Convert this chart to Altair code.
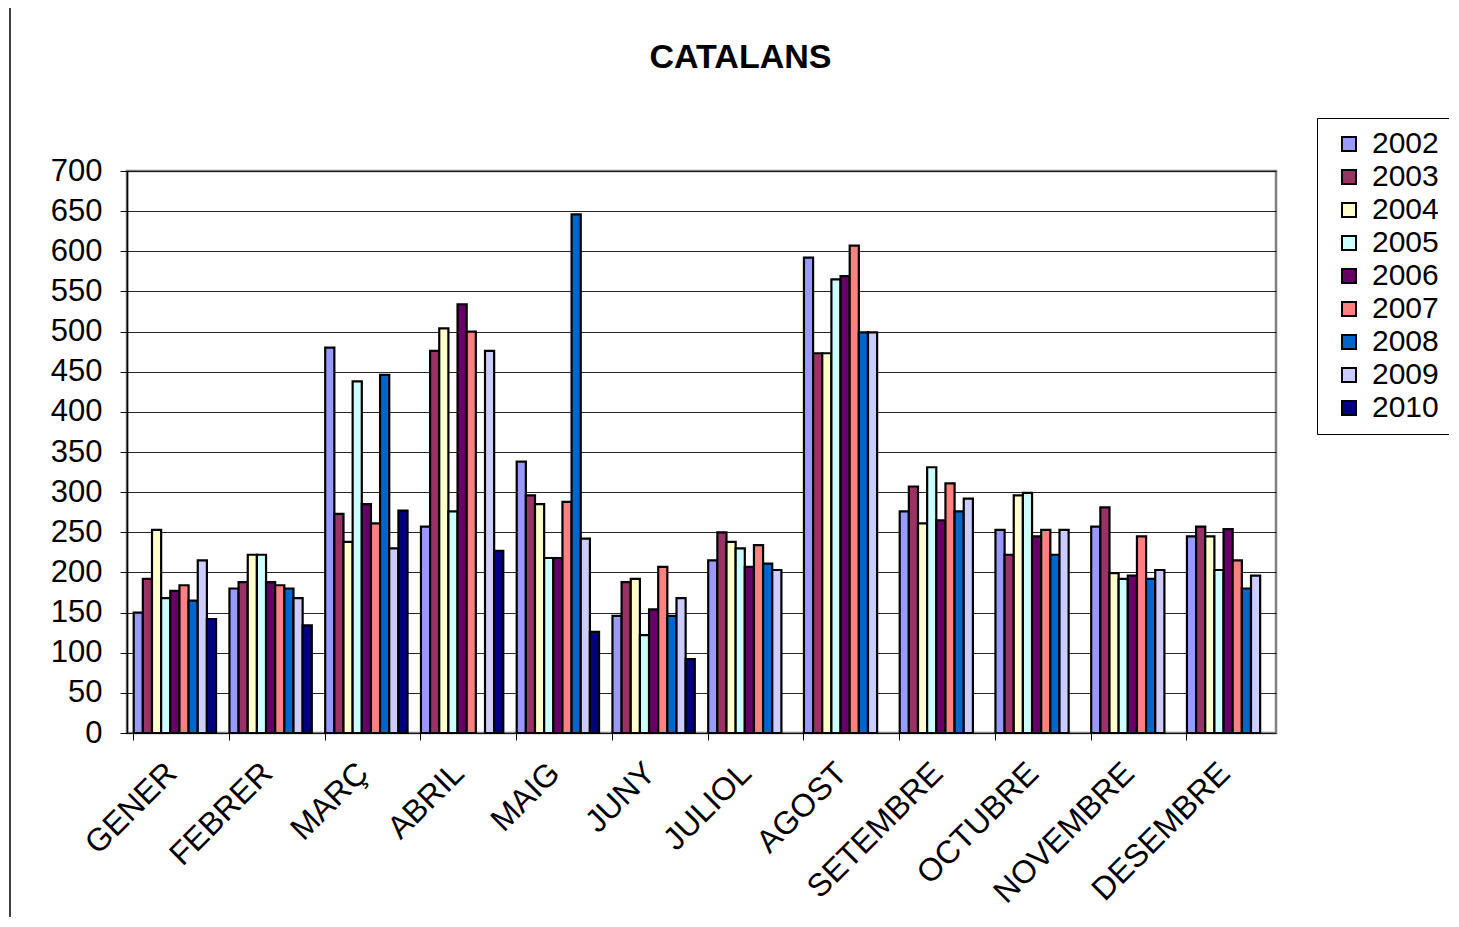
import altair as alt
import pandas as pd

months = ["GENER", "FEBRER", "MARÇ", "ABRIL", "MAIG", "JUNY", "JULIOL",
          "AGOST", "SETEMBRE", "OCTUBRE", "NOVEMBRE", "DESEMBRE"]
years = ["2002", "2003", "2004", "2005", "2006", "2007", "2008", "2009", "2010"]

v2002 = [150, 180, 480, 257, 338, 146, 215, 592, 276, 253, 257, 245]
v2003 = [192, 188, 273, 476, 296, 188, 250, 473, 307, 222, 281, 257]
v2004 = [253, 222, 238, 504, 285, 192, 238, 473, 261, 296, 199, 245]
v2005 = [168, 222, 438, 276, 218, 122, 230, 565, 331, 299, 192, 203]
v2006 = [177, 188, 285, 534, 218, 154, 207, 569, 265, 245, 196, 254]
v2007 = [184, 184, 261, 500, 288, 207, 234, 607, 311, 253, 245, 215]
v2008 = [165, 180, 446, None, 646, 146, 211, 499, 276, 222, 192, 180]
v2009 = [215, 168, 230, 476, 242, 168, 203, 499, 292, 253, 203, 196]
v2010 = [142, 134, 277, 227, 126, 92, None, None, None, None, None, None]

colors = ["#9999FF", "#993366", "#FFFFCC", "#CCFFFF", "#660066",
          "#FF8080", "#0066CC", "#CCCCFF", "#000080"]

series = [v2002, v2003, v2004, v2005, v2006, v2007, v2008, v2009, v2010]
rows = []
for y, vals in zip(years, series):
    for m, v in zip(months, vals):
        if v is not None:
            rows.append({"mes": m, "any": y, "valor": v})
df = pd.DataFrame(rows)

FONT = "Liberation Sans"

bars = alt.Chart(df).mark_bar(stroke="black", strokeWidth=2.2).encode(
    x=alt.X("mes:N", sort=months, title=None,
            scale=alt.Scale(domain=months, paddingInner=0.14, paddingOuter=0.07),
            axis=alt.Axis(labelAngle=-45, labelFontSize=32, labelFont=FONT,
                          labelColor="black", bandPosition=0, labelOffset=-14,
                          tickColor="black", tickSize=7, domain=False,
                          labelPadding=17, grid=False, labelLimit=0)),
    xOffset=alt.XOffset("any:N", scale=alt.Scale(domain=years, paddingInner=0, paddingOuter=0)),
    y=alt.Y("valor:Q", title=None,
            scale=alt.Scale(domain=[0, 700], nice=False),
            axis=alt.Axis(values=list(range(0, 701, 50)), labelFontSize=31,
                          labelFont=FONT, labelColor="black", tickColor="black",
                          tickSize=7, labelPadding=18, domainColor="black",
                          domainWidth=1.5, gridColor="black", gridWidth=1,
                          gridOpacity=0.85)),
    color=alt.Color("any:N", scale=alt.Scale(domain=years, range=colors),
                    legend=alt.Legend(title=None, orient="none", legendX=1190,
                                      legendY=-53)),
)

border = alt.Chart(pd.DataFrame({"a": [0]})).mark_rule(
    color="black", strokeWidth=1.5).encode(
    x=alt.value(-117), y=alt.value(-163), y2=alt.value(760))

chart = alt.layer(border, bars).properties(
    width=1149, height=562,
    title=alt.TitleParams("CATALANS", fontSize=34, fontWeight="bold", font=FONT,
                          color="black", offset=0, dy=68, dx=39, frame="group"),
    autosize=alt.AutoSizeParams(type="none"),
    padding={"left": 119, "top": 163, "right": 173, "bottom": 184},
    background="white",
).configure_view(
    stroke="#808080", strokeWidth=2.5
).configure_legend(
    strokeColor="black", fillColor="white", padding=11, symbolType="square",
    symbolSize=196, symbolStrokeColor="black", symbolStrokeWidth=2,
    labelFontSize=30, labelFont=FONT, labelColor="black", rowPadding=3,
    symbolOffset=6, labelOffset=8
)

chart.save("out.html", embed_options={"renderer": "svg", "actions": False})
